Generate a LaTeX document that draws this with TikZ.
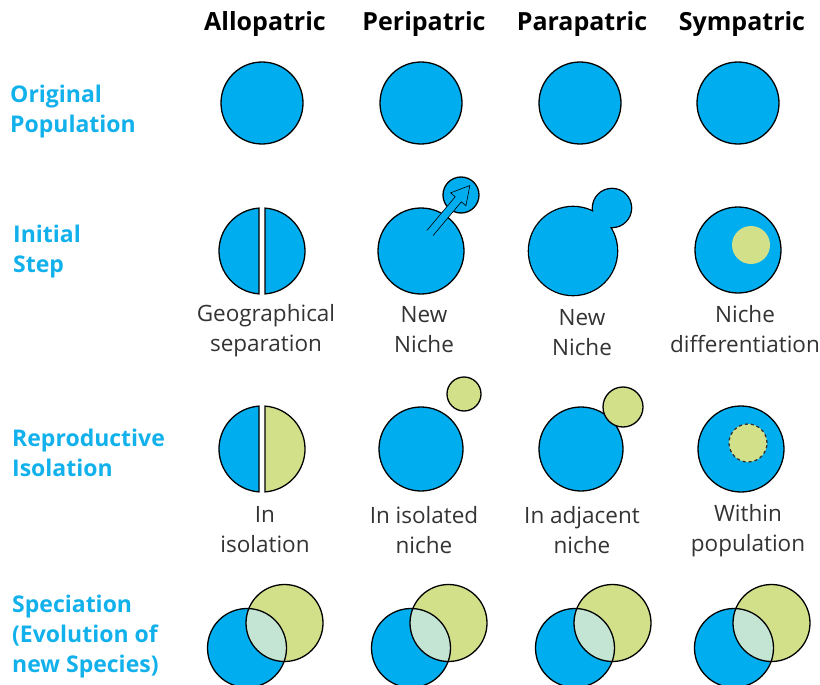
\documentclass[tikz,border=0pt]{standalone}
\usepackage{fontspec}
\setmainfont{Open Sans}

\definecolor{popblue}{HTML}{00AEEF}
\definecolor{nichegreen}{HTML}{D3E08A}
\definecolor{mixgreen}{HTML}{C4E5D4}
\definecolor{rowblue}{HTML}{12B1EC}
\definecolor{labelgray}{HTML}{333333}

\tikzset{
  pop/.style={circle, draw, line width=1.3pt, fill=popblue, inner sep=0pt},
  niche/.style={circle, draw, line width=1.3pt, fill=nichegreen, inner sep=0pt},
  head/.style={font=\fontsize{25}{30}\selectfont\bfseries},
  rowlabel/.style={anchor=west, align=left, inner sep=0pt, text=rowblue, font=\fontsize{23}{30}\selectfont\bfseries},
  caption/.style={align=center, inner sep=0pt, text=labelgray, font=\fontsize{22.5}{30}\selectfont},
}

\begin{document}
\begin{tikzpicture}[x=1pt, y=-1pt]
  \useasboundingbox (0,0) rectangle (820,685);

  % column headers
  \node[head] (hAllo) at (265,24) {Allopatric};
  \node[head] (hPeri) at (424,24) {Peripatric};
  \node[head] (hPara) at (582,24) {Parapatric};
  \node[head] (hSym)  at (742,24) {Sympatric};

  % row labels
  \node[rowlabel] (rOrig) at (10,112) {Original\\Population};
  \node[rowlabel] (rInit) at (13,252) {Initial\\Step};
  \node[rowlabel] (rRepr) at (12,453) {Reproductive\\Isolation};
  \node[rowlabel] (rSpec) at (12,637) {Speciation\\(Evolution of\\new Species)};

  % original population
  \node[pop, minimum size=82pt] (oAllo) at (262,103) {};
  \node[pop, minimum size=82pt] (oPeri) at (421,103) {};
  \node[pop, minimum size=82pt] (oPara) at (580,103) {};
  \node[pop, minimum size=82pt] (oSym)  at (738,103) {};

  % initial step
  \draw[line width=1.3pt, fill=popblue] (262,251) ++(94:43) arc[start angle=94, end angle=266, radius=43] -- cycle;
  \draw[line width=1.3pt, fill=popblue] (262,251) ++(-86:43) arc[start angle=-86, end angle=86, radius=43] -- cycle;

  \node[pop, minimum size=86pt] (iPeri) at (421,251) {};
  \node[pop, minimum size=36pt] (iPeriNew) at (461,195) {};
  \begin{scope}[shift={(430,233)}, rotate=50]
    \fill[popblue] (0,-4) -- (44,-4) -- (44,-10) -- (62,0) -- (44,10) -- (44,4) -- (0,4) -- cycle;
    \draw[line width=0.6pt] (0,-4) -- (44,-4) -- (44,-10) -- (62,0) -- (44,10) -- (44,4) -- (0,4);
  \end{scope}

  \draw[line width=2.6pt] (573,251) circle[radius=44] (612,208) circle[radius=19];
  \fill[popblue] (573,251) circle[radius=44] (612,208) circle[radius=19];
  \coordinate (iPara) at (573,251);

  \node[pop, minimum size=86pt] (iSym) at (738,250) {};
  \node[circle, fill=nichegreen, minimum size=38pt, inner sep=0pt] (iSymNiche) at (751,245) {};

  \node[caption] (cGeo)  at (266,331) {Geographical\\separation};
  \node[caption] (cNew1) at (424,330) {New\\Niche};
  \node[caption] (cNew2) at (582,333) {New\\Niche};
  \node[caption] (cDiff) at (745,329) {Niche\\differentiation};

  % reproductive isolation
  \draw[line width=1.3pt, fill=popblue] (262,449) ++(94:43) arc[start angle=94, end angle=266, radius=43] -- cycle;
  \draw[line width=1.3pt, fill=nichegreen] (262,449) ++(-86:43) arc[start angle=-86, end angle=86, radius=43] -- cycle;

  \node[pop, minimum size=84pt] (rPeri) at (421,449) {};
  \node[niche, minimum size=34pt] (rPeriNiche) at (464,394) {};

  \node[pop, minimum size=84pt] (rPara) at (581,449) {};
  \node[niche, minimum size=40pt] (rParaNiche) at (623,407) {};

  \node[pop, minimum size=86pt] (rSym) at (741,449) {};
  \node[circle, draw=black!80, dashed, line width=1.3pt, fill=nichegreen, minimum size=38pt, inner sep=0pt] (rSymNiche) at (748,443) {};

  \node[caption] (cIso)   at (265,530) {In\\isolation};
  \node[caption] (cIsoN)  at (424,530) {In isolated\\niche};
  \node[caption] (cAdj)   at (582,530) {In adjacent\\niche};
  \node[caption] (cWith)  at (748,531) {Within\\population};

  % speciation
  \foreach \bx/\nm in {247/Allo, 411/Peri, 575/Para, 734/Sym} {
    \coordinate (s\nm Old) at (\bx,648);
    \coordinate (s\nm New) at (\bx+37.5,623);
    \fill[popblue] (s\nm Old) circle[radius=39.5];
    \fill[nichegreen] (s\nm New) circle[radius=38.5];
    \begin{scope}
      \clip (s\nm Old) circle[radius=39.5];
      \fill[mixgreen] (s\nm New) circle[radius=38.5];
    \end{scope}
    \draw[line width=1.3pt] (s\nm Old) circle[radius=39.5] (s\nm New) circle[radius=38.5];
  }
\end{tikzpicture}
\end{document}
